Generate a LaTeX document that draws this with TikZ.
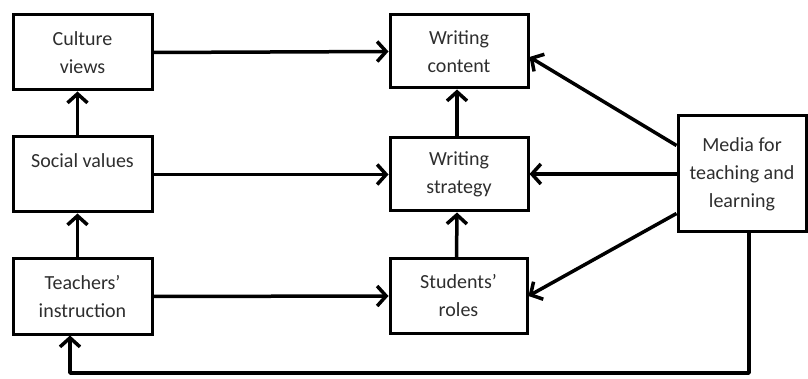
\documentclass[tikz,border=0pt]{standalone}
\usepackage{fontspec}
\setmainfont{Carlito}
\usetikzlibrary{arrows.meta}
\definecolor{txt}{HTML}{2E2E2E}
\begin{document}
\begin{tikzpicture}[x=1pt,y=-1pt,
  box/.style={draw=black,line width=3pt,inner sep=0pt,align=center,text=txt,
    font=\fontsize{20}{28}\selectfont},
  arr/.style={line width=3.5pt,-{Straight Barb[length=9pt,width=20pt]}}]
\useasboundingbox (0,0) rectangle (808,379);
\node[box,minimum width=139pt,minimum height=75pt] (cv) at (82.5,52.5) {Culture\\views};
\node[box,minimum width=139pt,minimum height=75pt] (sv) at (82.5,174.5) {Social values\\\mbox{}};
\node[box,minimum width=139pt,minimum height=75pt] (ti) at (82.5,296.5) {Teachers’\\instruction};
\node[box,minimum width=138pt,minimum height=73pt] (wc) at (459,51.5) {Writing\\content};
\node[box,minimum width=138pt,minimum height=73pt] (ws) at (459,174.5) {Writing\\strategy};
\node[box,minimum width=137pt,minimum height=74pt] (sr) at (458.5,296) {Students’\\roles};
\node[box,minimum width=128pt,minimum height=116pt] (md) at (742,174) {Media for\\teaching and\\learning};
\coordinate (fb1) at (749,373);
\coordinate (fb2) at (70,373);
\draw[arr] (cv.east) -- (wc.west);
\draw[arr] (sv.east) -- (ws.west);
\draw[arr] (ti.east) -- (sr.west);
\draw[arr] ([xshift=-5pt]sv.north) -- ([xshift=-5pt]cv.south);
\draw[arr] ([xshift=-5pt]ti.north) -- ([xshift=-5pt]sv.south);
\draw[arr] ([xshift=-2pt]ws.north) -- ([xshift=-2pt]wc.south);
\draw[arr] ([xshift=-2pt]sr.north) -- ([xshift=-2pt]ws.south);
\draw[arr] ([yshift=-31pt]md.north west) -- ([yshift=-5.5pt]wc.east);
\draw[arr] (md.west) -- (md.west -| ws.east);
\draw[arr] ([yshift=20pt]md.south west) -- (sr.east);
\draw[arr,line join=round] (md.south -| fb1) -- (fb1) -- (fb2) -- (ti.south -| fb2);
\end{tikzpicture}
\end{document}
